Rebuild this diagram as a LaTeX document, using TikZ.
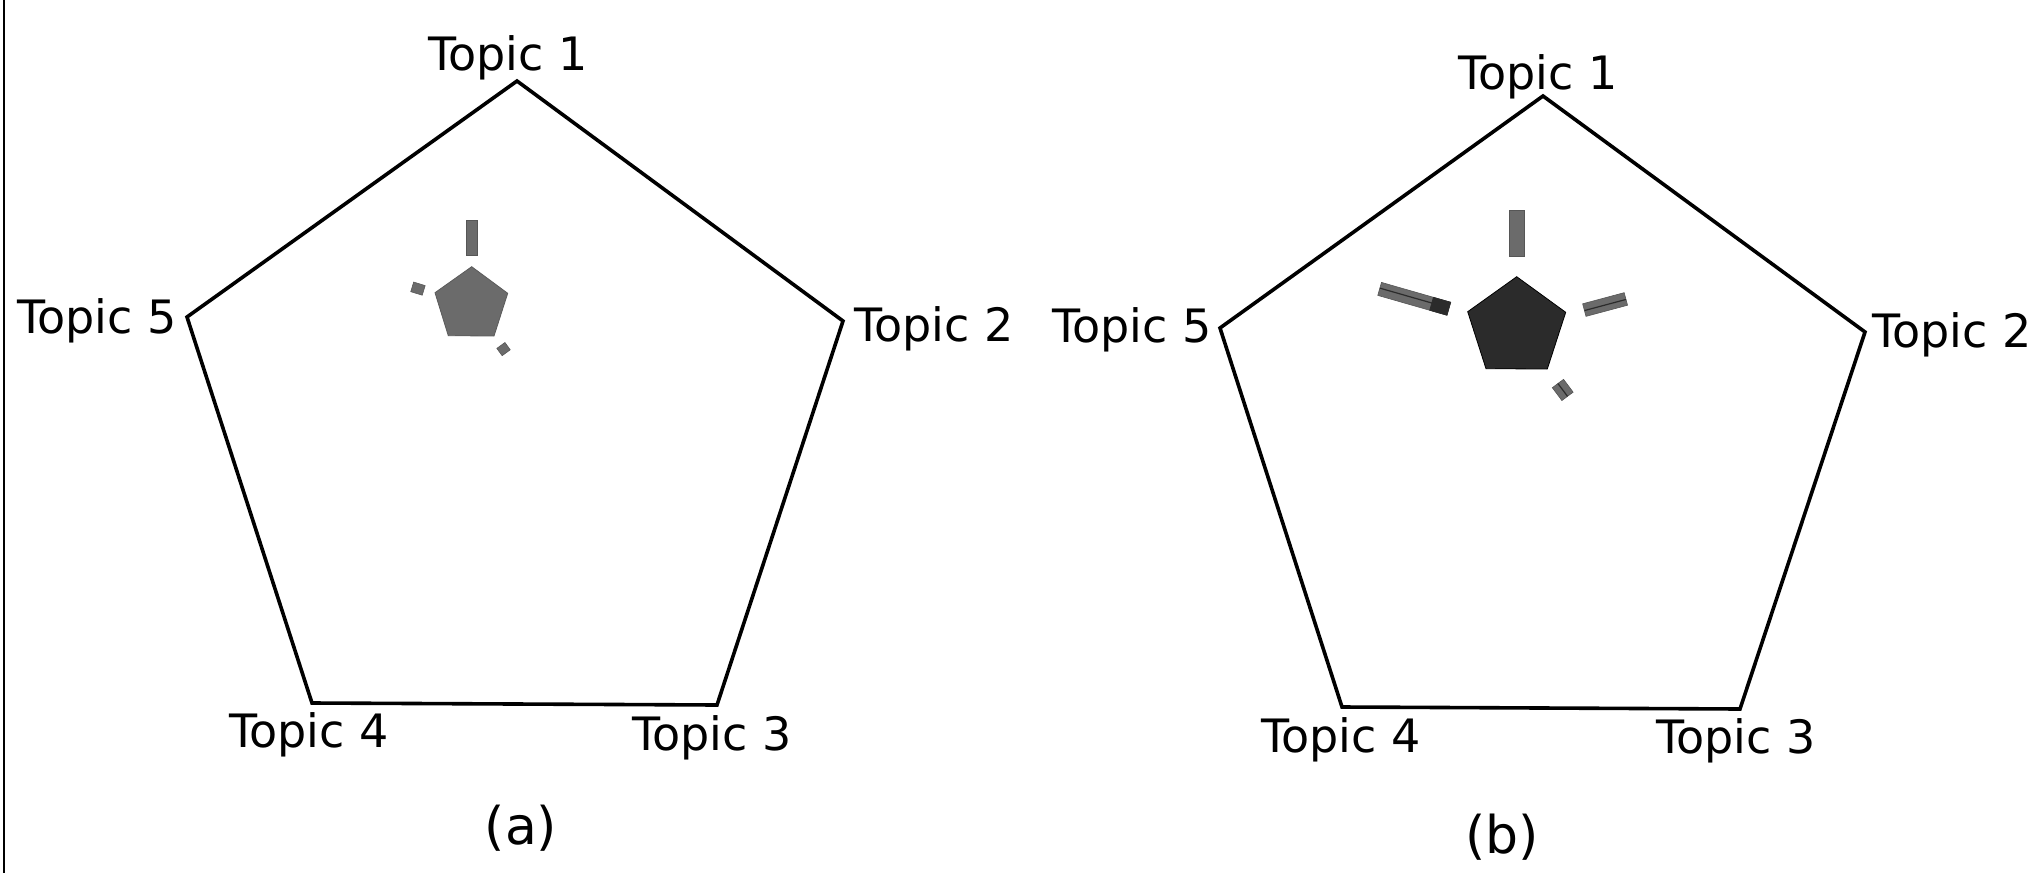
\documentclass[tikz,border=0pt]{standalone}
\usepackage{fontspec}
\setmainfont{DejaVu Sans}
\definecolor{bargray}{HTML}{6B6B6B}
\definecolor{bardark}{HTML}{2B2B2B}
\tikzset{
  frame/.style={draw=black, line width=1.8pt, line join=miter},
  topic/.style={font=\fontsize{23}{27}\selectfont, inner sep=0pt, anchor=base},
  caption/.style={font=\fontsize{26}{30}\selectfont, inner sep=0pt},
  bar/.style={fill=bargray, draw=bargray!80!black, line width=0.3pt},
  darkbar/.style={fill=bardark, draw=bardark, line width=0.3pt},
  midline/.style={draw=bardark, line width=0.6pt},
}
% radial bar: centre, angle, start distance, length, width, style
\newcommand{\radbar}[6]{%
  \path[#6, shift={#1}, rotate=#2] (#3,-#5/2) rectangle ({#3+#4},#5/2);}
\newcommand{\radline}[5]{%
  \draw[midline, shift={#1}, rotate=#2] (#3,#5) -- ({#3+#4},#5);}
\begin{document}
\begin{tikzpicture}[x=0.5pt, y=-0.5pt]
\useasboundingbox (0,0) rectangle (2042,873);
\fill[white] (0,0) rectangle (2042,873);
\draw[line width=1.4pt] (4,0) -- (4,873);

% ---- panel (a) ----
\draw[frame] (517,81) -- (843,321) -- (717,705) -- (312,703) -- (187,317) -- cycle;
\node[topic] (a1) at (508,70) {Topic 1};
\node[topic] (a2) at (934,341) {Topic 2};
\node[topic] (a3) at (712,750) {Topic 3};
\node[topic] (a4) at (309,747) {Topic 4};
\node[topic] (a5) at (97,333) {Topic 5};
\node[caption] (capa) at (521,828) {(a)};

\fill[bargray, draw=bargray!85!black, line width=0.4pt]
  (471.7,266.7) -- (507.7,293.3) -- (494,336) -- (448.3,335.7) -- (435,292.7) -- cycle;
\radbar{(471.5,305)}{90}{49.3}{35}{11}{bar}
\radbar{(471.5,305)}{163}{50}{12}{10}{bar}
\radbar{(471.5,305)}{-54}{50}{9}{10}{bar}

% ---- panel (b) ----
\draw[frame] (1543,96) -- (1865,332) -- (1740,709) -- (1342,707) -- (1220,328) -- cycle;
\node[topic] (b1) at (1538,89.5) {Topic 1};
\node[topic] (b2) at (1952,347) {Topic 2};
\node[topic] (b3) at (1736,753.5) {Topic 3};
\node[topic] (b4) at (1341,752) {Topic 4};
\node[topic] (b5) at (1132,342) {Topic 5};
\node[caption] (capb) at (1502,837) {(b)};

\fill[bardark, draw=black, line width=0.4pt]
  (1516.7,276.7) -- (1565.7,312.3) -- (1547.3,369) -- (1486,368.7) -- (1467.7,311.7) -- cycle;
\radbar{(1516.7,328.2)}{90}{71.5}{46}{15}{bar}
\radbar{(1516.7,328.2)}{164}{70.6}{72}{13.5}{bar}
\radbar{(1516.7,328.2)}{164}{70.6}{18}{13.5}{darkbar}
\radline{(1516.7,328.2)}{164}{70.6}{72}{0.8}
\radbar{(1516.7,328.2)}{15}{70}{43}{13}{bar}
\radline{(1516.7,328.2)}{15}{70}{43}{0.5}
\radbar{(1516.7,328.2)}{-53.3}{69}{16}{14}{bar}
\radline{(1516.7,328.2)}{-53.3}{69}{16}{0}
\end{tikzpicture}
\end{document}
